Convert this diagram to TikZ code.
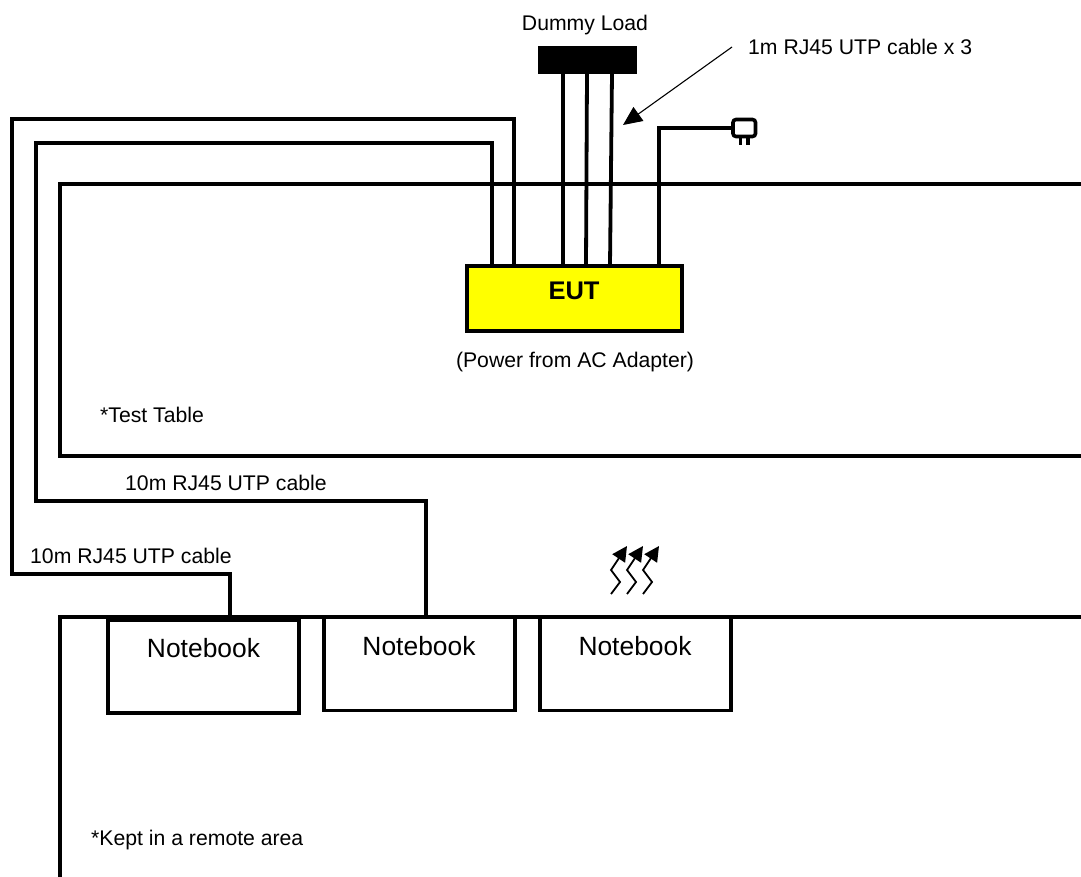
\documentclass[tikz,border=0pt]{standalone}
\usepackage{fontspec}
\setmainfont{Liberation Sans}
\usetikzlibrary{arrows.meta}
\definecolor{eutyellow}{RGB}{255,255,0}
\tikzset{
  x=1pt,y=-1pt,
  wire/.style={line width=3.8pt,line join=miter,line cap=butt},
  tablelin/.style={line width=3.8pt,line join=miter},
  lbl/.style={inner sep=0pt,font=\fontsize{21.2}{25}\selectfont},
  nbbox/.style={draw,line width=3.8pt,fill=white,minimum width=191pt,minimum height=93pt,inner sep=0pt,anchor=north west},
  nbtxt/.style={inner sep=0pt,font=\fontsize{26.4}{30}\selectfont},
  heat/.style={line width=1.8pt,-{Triangle[length=15pt,width=15pt]},line join=miter},
}
\begin{document}
\begin{tikzpicture}
\useasboundingbox (0,0) rectangle (1081,877);
% tables
\coordinate (t1a) at (1081,184);
\coordinate (t1b) at (60,184);
\coordinate (t1c) at (60,456);
\coordinate (t1d) at (1081,456);
\draw[tablelin] (t1a) -- (t1b) -- (t1c) -- (t1d);
\coordinate (t2a) at (1081,617);
\coordinate (t2b) at (60,617);
\coordinate (t2c) at (60,877);
\draw[tablelin] (t2a) -- (t2b) -- (t2c);
% main boxes
\node[draw,line width=3.8pt,fill=eutyellow,minimum width=215pt,minimum height=65pt,inner sep=0pt,anchor=north west] (eut) at (465,264) {};
\node[inner sep=0pt,font=\fontsize{25.5}{30}\selectfont\bfseries] (eutl) at (574,291) {EUT};
\fill (538,46) rectangle (637,74);
\coordinate (loadA) at (563,74);
\coordinate (loadB) at (587,74);
\coordinate (loadC) at (612,74);
\coordinate (eutA) at (563,265);
\coordinate (eutB) at (586,265);
\coordinate (eutC) at (610,265);
\draw[wire] (loadA) -- (eutA);
\draw[wire] (loadB) -- (eutB);
\draw[wire] (loadC) -- (eutC);
% notebooks
\node[nbbox] (nb1) at (106,618) {};
\node[nbbox] (nb2) at (322,615.5) {};
\node[nbbox] (nb3) at (538,615.5) {};
\node[nbtxt] (nb1t) at (203.5,648) {Notebook};
\node[nbtxt] (nb2t) at (419,646) {Notebook};
\node[nbtxt] (nb3t) at (635,646) {Notebook};
% cables
\coordinate (c1eut) at (514,265);
\coordinate (c1a) at (514,119);
\coordinate (c1b) at (12,119);
\coordinate (c1c) at (12,574);
\coordinate (c1d) at (230,574);
\coordinate (c1e) at (230,617);
\draw[wire] (c1eut) -- (c1a) -- (c1b) -- (c1c) -- (c1d) -- (c1e);
\coordinate (c2eut) at (492,265);
\coordinate (c2a) at (492,143);
\coordinate (c2b) at (36,143);
\coordinate (c2c) at (36,501);
\coordinate (c2d) at (426,501);
\coordinate (c2e) at (426,617);
\draw[wire] (c2eut) -- (c2a) -- (c2b) -- (c2c) -- (c2d) -- (c2e);
% power cord and plug
\coordinate (peut) at (659,265);
\coordinate (pa) at (659,128);
\coordinate (pplug) at (733,128);
\draw[wire] (peut) -- (pa) -- (pplug);
\draw[line width=3.6pt,rounded corners=3pt,fill=white] (733,119.5) rectangle (755.5,136.5);
\draw[line width=3.2pt] (740.5,137) -- (740.5,145.5);
\draw[line width=3.2pt] (748,137) -- (748,145.5);
% leader arrow
\coordinate (arrS) at (732,47);
\coordinate (arrE) at (623,125);
\draw[line width=1.1pt,-{Triangle[length=19pt,width=17pt]}] (arrS) -- (arrE);
% heat arrows
\foreach \d [count=\i] in {0,16,32}{
  \coordinate (h\i a) at (\d+611,594);
  \coordinate (h\i b) at (\d+620,582);
  \coordinate (h\i c) at (\d+611,570);
  \coordinate (h\i d) at (\d+627,546);
  \draw[heat] (h\i a) -- (h\i b) -- (h\i c) -- (h\i d);
}
% labels
\node[lbl] (ldummy) at (585,25) {Dummy Load};
\node[lbl,anchor=west] (lcab3) at (748,47) {1m RJ45 UTP cable x 3};
\node[lbl] (lpower) at (575,362) {(Power from AC Adapter)};
\node[lbl,anchor=west] (ltest) at (100,415) {*Test Table};
\node[lbl,anchor=west] (lc2) at (125,483) {10m RJ45 UTP cable};
\node[lbl,anchor=west] (lc1) at (30,556) {10m RJ45 UTP cable};
\node[lbl,anchor=west] (lremote) at (91,840) {*Kept in a remote area};
\end{tikzpicture}
\end{document}
